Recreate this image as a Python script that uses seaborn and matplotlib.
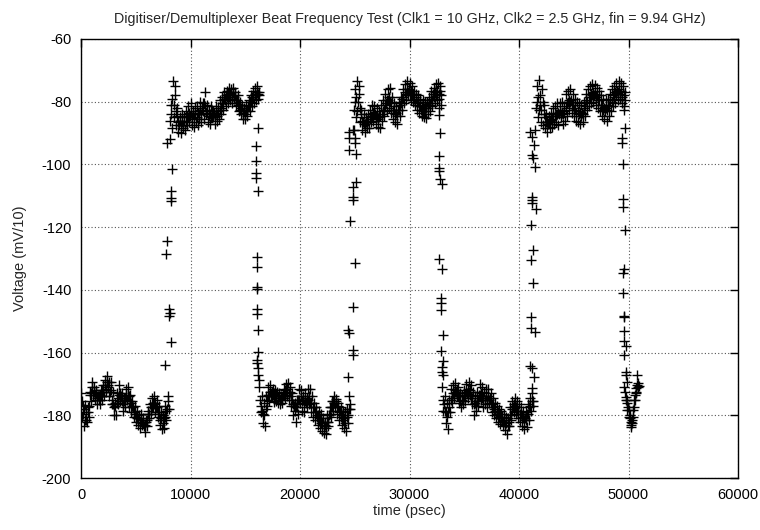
import numpy as np
import pandas as pd
import matplotlib
matplotlib.use("Agg")
import matplotlib.pyplot as plt
import seaborn as sns

# ---------------- data (time in psec, voltage in mV/10) ----------------
sample_step_ps = 100

low1_start = 0
low1_mv = [-173.0, -180.5, -177.0, -183.5, -176.8, -181.5, -179.0, -180.5, -173.5, -175.5,
           -169.5, -173.5, -171.0, -175.2, -172.0, -176.3, -173.8, -176.5, -172.0, -175.0,
           -170.5, -173.8, -168.8, -172.5, -167.5, -171.0, -173.8, -169.5, -176.5, -172.5,
           -180.0, -176.0, -180.0, -173.0, -176.5, -170.5, -175.5, -173.0, -178.5, -174.5,
           -177.5, -171.5, -175.0, -171.0, -177.5, -173.5, -179.0, -175.5, -180.5, -177.0,
           -182.0, -178.5, -183.0, -180.0, -184.0, -179.5, -183.0, -181.0, -185.3, -181.5,
           -183.5, -178.5, -181.0, -176.5, -179.5, -174.5, -177.5, -174.0, -178.8, -175.0,
           -180.5, -177.0, -183.0, -179.0, -184.5, -180.0, -184.0, -177.0, -181.5, -174.0,
           -178.0]
low1b_start = 50
low1b_mv = [-175.5, -179.5, -178.0, -181.5, -179.0, -182.0, -177.5, -177.0, -172.5, -173.0,
            -171.0, -172.5, -173.5, -173.0, -174.5, -174.0, -175.0, -173.5, -174.0, -172.0,
            -172.5, -170.5, -171.5, -169.5, -170.5, -169.5, -172.5, -172.0, -175.0, -176.5,
            -177.5, -177.0, -176.0, -174.5, -173.5, -173.0, -174.0, -175.5, -176.5, -175.5,
            -174.5, -173.5, -174.0, -174.0, -175.5, -176.0, -177.0, -177.5, -179.0, -179.5,
            -180.5, -181.0, -181.0, -182.0, -181.5, -182.5, -182.5, -183.5, -183.0, -182.0,
            -181.5, -179.5, -179.5, -177.5, -177.5, -176.0, -176.5, -176.0, -177.5, -177.5,
            -179.0, -179.5, -181.5, -181.0, -182.5, -181.0, -180.5, -178.5, -178.0, -175.5]

high1_start = 8100
high1_mv = [-92.0, -81.0, -88.5, -73.5, -85.0, -75.0, -87.5, -82.0, -89.5, -85.0,
            -90.0, -84.0, -88.5, -84.5, -89.0, -83.0, -87.5, -81.5, -86.5, -80.5,
            -87.5, -83.0, -88.0, -82.0, -86.5, -81.5, -87.5, -84.0, -80.0, -86.5,
            -80.5, -85.5, -77.0, -84.0, -81.0, -86.5, -82.5, -87.0, -81.5, -85.0,
            -83.0, -87.0, -81.5, -86.0, -82.0, -85.5, -79.5, -84.0, -78.5, -82.5,
            -77.0, -81.5, -76.5, -80.5, -75.5, -79.5, -76.0, -80.5, -75.5, -79.0,
            -77.0, -81.5, -78.0, -83.0, -80.0, -84.0, -81.0, -85.5, -82.0, -85.5,
            -81.0, -84.5, -79.5, -83.0, -78.0, -81.5, -76.5, -80.5, -75.5, -79.5,
            -75.0, -79.0, -77.0]
high1b_start = 8150
high1b_mv = [-86.0, -84.0, -79.0, -81.0, -78.0, -83.0, -84.5, -86.5, -87.5, -86.0,
             -87.5, -86.5, -87.5, -86.0, -86.5, -84.5, -85.0, -83.5, -84.5, -83.5,
             -85.0, -84.0, -85.5, -84.0, -85.0, -83.5, -85.5, -82.5, -84.0, -82.0,
             -83.0, -80.5, -81.5, -83.5, -83.0, -84.5, -84.0, -85.0, -83.0, -84.5,
             -83.5, -85.0, -83.5, -84.5, -83.0, -82.5, -82.0, -80.5, -80.5, -79.0,
             -79.5, -78.0, -78.5, -77.5, -78.5, -77.5, -78.5, -77.0, -78.5, -78.0,
             -79.5, -79.5, -81.0, -81.0, -82.5, -82.0, -83.5, -83.0, -84.0, -83.0,
             -83.0, -81.5, -81.5, -80.0, -80.0, -78.5, -78.5, -77.5, -78.0, -77.0,
             -77.5, -78.0]

low2_start = 16300
low2_mv = [-171.0, -179.0, -174.0, -182.5, -176.0, -183.5, -174.0, -177.0, -171.0, -175.5,
           -170.5, -174.0, -171.5, -175.8, -172.0, -175.5, -172.5, -176.0, -173.0, -176.5,
           -174.0, -176.0, -171.5, -174.5, -170.0, -174.0, -169.8, -175.0, -171.0, -177.0,
           -173.0, -180.0, -176.0, -182.0, -175.0, -179.5, -171.5, -176.0, -172.0, -178.5,
           -174.0, -179.0, -173.0, -177.5, -171.5, -176.5, -171.5, -179.0, -174.0, -180.5,
           -176.0, -181.5, -177.5, -183.0, -178.5, -184.0, -179.5, -185.0, -181.0, -185.8,
           -182.0, -186.0, -180.0, -183.5, -177.5, -180.5, -175.5, -178.5, -174.0, -177.5,
           -174.8, -179.5, -176.0, -181.5, -177.5, -183.0, -178.5, -184.0, -179.0, -185.0,
           -178.0, -182.5, -174.0, -178.0]
low2b_start = 16350
low2b_mv = [-175.0, -177.0, -178.5, -179.5, -180.0, -178.0, -175.0, -173.5, -173.5, -172.5,
            -173.5, -172.5, -173.5, -173.0, -174.0, -173.5, -174.5, -174.0, -175.0, -175.0,
            -174.5, -173.5, -173.5, -172.0, -172.5, -171.5, -173.0, -172.5, -174.0, -175.0,
            -176.5, -177.0, -178.5, -177.5, -177.5, -175.0, -175.0, -174.0, -175.5, -175.0,
            -176.5, -175.5, -176.0, -174.5, -175.0, -174.0, -176.0, -176.0, -177.5, -177.5,
            -179.0, -179.0, -180.5, -180.0, -181.5, -181.0, -182.5, -182.5, -183.5, -183.0,
            -184.0, -182.0, -182.0, -180.0, -179.5, -177.5, -177.5, -175.5, -176.0, -175.5,
            -177.5, -177.0, -179.0, -178.5, -180.5, -180.0, -181.5, -181.0, -182.5, -180.5,
            -180.0, -178.0, -176.5]

high2_start = 24900
high2_mv = [-89.0, -76.0, -85.0, -73.5, -80.0, -75.0, -86.5, -82.5, -89.0, -84.0,
            -89.5, -85.0, -88.5, -84.0, -88.5, -82.5, -86.5, -81.0, -86.0, -81.5,
            -87.0, -82.0, -88.0, -83.0, -88.5, -81.0, -86.0, -79.5, -84.5, -77.5,
            -83.0, -76.0, -82.0, -75.5, -83.5, -78.5, -85.5, -80.5, -86.5, -81.5,
            -87.0, -80.0, -84.5, -78.5, -82.5, -76.0, -80.5, -74.5, -79.5, -73.5,
            -78.0, -74.0, -79.5, -75.0, -80.0, -76.5, -81.0, -77.5, -82.5, -78.0,
            -83.5, -79.0, -84.5, -79.5, -85.0, -80.0, -85.3, -80.0, -84.0, -78.5,
            -83.0, -76.5, -81.5, -75.5, -80.5, -74.5, -79.5, -74.0, -79.0, -75.0,
            -81.0]
high2b_start = 24950
high2b_mv = [-82.5, -80.0, -78.5, -83.0, -77.5, -82.0, -84.0, -86.0, -86.5, -87.0,
             -87.0, -86.5, -86.5, -86.0, -85.5, -84.5, -84.5, -83.5, -84.0, -84.0,
             -84.5, -85.0, -85.5, -85.0, -84.5, -84.0, -83.0, -82.5, -81.0, -80.5,
             -79.5, -79.5, -78.5, -80.0, -80.5, -82.5, -82.5, -84.0, -83.5, -84.5,
             -82.5, -82.5, -81.0, -80.5, -79.0, -78.5, -77.0, -77.5, -76.0, -77.0,
             -76.0, -77.5, -76.5, -78.0, -77.5, -79.0, -78.5, -80.5, -80.0, -81.5,
             -81.0, -82.5, -81.5, -83.0, -82.0, -83.0, -82.0, -82.0, -80.5, -81.0,
             -79.0, -79.5, -77.5, -78.5, -77.0, -77.5, -76.5, -77.5, -76.5, -78.0]

low3_start = 33000
low3_mv = [-171.0, -178.5, -174.0, -182.5, -176.0, -184.5, -175.0, -179.0, -171.5, -176.0,
           -170.5, -174.5, -169.8, -174.0, -171.0, -176.0, -173.0, -177.5, -173.5, -176.5,
           -172.0, -175.5, -170.0, -174.5, -169.3, -173.5, -170.5, -176.5, -172.5, -180.0,
           -174.0, -178.5, -172.5, -177.0, -170.0, -175.0, -171.0, -177.5, -172.5, -176.5,
           -171.5, -177.5, -171.5, -176.0, -173.0, -179.0, -174.5, -180.0, -176.0, -181.0,
           -177.0, -182.0, -178.0, -182.8, -178.5, -183.5, -179.5, -184.8, -180.5, -186.0,
           -181.0, -183.5, -177.5, -181.5, -175.5, -179.0, -174.5, -179.5, -175.5, -181.0,
           -176.5, -182.0, -177.5, -183.5, -178.5, -184.5, -179.0, -183.8, -176.5, -181.5,
           -174.5, -178.5, -173.0, -177.0]
low3b_start = 33050
low3b_mv = [-175.0, -176.5, -178.5, -179.0, -180.5, -179.0, -177.5, -175.0, -174.5, -173.0,
            -173.0, -172.0, -172.5, -172.0, -173.5, -174.0, -175.5, -175.0, -175.5, -174.0,
            -173.5, -172.5, -173.0, -171.5, -172.5, -172.0, -174.5, -174.5, -176.5, -176.0,
            -177.0, -175.5, -175.5, -173.5, -173.5, -173.0, -174.5, -174.5, -175.0, -174.0,
            -175.0, -174.0, -175.0, -174.5, -176.0, -176.5, -177.5, -178.0, -178.5, -179.5,
            -179.0, -180.5, -179.5, -181.0, -180.5, -182.0, -181.5, -183.0, -182.5, -183.5,
            -182.0, -180.0, -180.0, -178.0, -177.5, -176.5, -177.0, -177.5, -178.5, -178.5,
            -179.5, -179.5, -180.5, -181.0, -181.5, -181.0, -181.5, -179.5, -179.5, -177.5,
            -177.0, -175.5, -175.5]

high3_start = 41500
high3_mv = [-89.0, -75.0, -85.0, -73.0, -81.0, -86.5, -76.0, -87.5, -81.0, -88.5,
            -84.0, -89.5, -84.5, -88.5, -83.5, -88.0, -82.0, -87.0, -81.5, -86.5,
            -80.5, -87.5, -80.5, -85.0, -80.0, -87.0, -81.5, -86.0, -77.5, -84.5,
            -76.5, -82.5, -76.0, -83.5, -77.5, -84.5, -79.0, -86.0, -80.0, -86.5,
            -80.5, -87.0, -81.0, -86.5, -80.0, -84.5, -77.5, -82.5, -76.0, -81.5,
            -75.0, -80.5, -74.5, -80.0, -74.8, -81.0, -75.5, -82.0, -76.5, -83.0,
            -78.0, -84.5, -79.0, -85.5, -79.5, -86.0, -79.0, -84.5, -77.5, -83.0,
            -76.0, -81.5, -75.0, -80.5, -74.0, -79.5, -73.5, -79.0, -74.0, -80.5,
            -75.0, -81.5, -77.0]
high3b_start = 41550
high3b_mv = [-82.0, -80.0, -78.5, -82.5, -78.0, -82.5, -80.0, -84.0, -85.0, -86.5,
             -86.5, -87.0, -86.5, -86.0, -85.5, -85.5, -84.5, -84.5, -84.0, -84.0,
             -83.5, -84.0, -83.0, -84.0, -83.5, -84.0, -83.0, -82.0, -80.5, -80.0,
             -79.5, -80.0, -79.5, -81.0, -81.0, -82.5, -82.0, -83.5, -83.0, -84.0,
             -83.5, -84.5, -83.5, -84.0, -82.0, -81.5, -79.5, -80.0, -78.5, -78.5,
             -77.5, -78.0, -77.0, -78.0, -77.5, -78.5, -78.0, -79.5, -79.5, -81.0,
             -81.0, -82.5, -82.0, -83.0, -82.0, -82.5, -81.0, -81.5, -79.5, -80.0,
             -78.0, -78.5, -77.0, -77.5, -76.5, -77.0, -76.0, -77.5, -76.5, -78.5,
             -78.0, -79.5]

# points caught during the level transitions
trans1_t = [7660, 7720, 7870, 7810, 8050, 8100, 8080, 8175, 8175, 8175, 8175, 8325]
trans1_mv = [-164.0, -128.6, -124.4, -93.3, -146.2, -147.5, -148.4, -156.6, -108.5, -110.6, -111.7, -101.3]

trans2_t = [16160, 16015, 16015, 16015, 16015, 16200, 16100, 16050, 16050, 16050,
            16050, 16050, 16150, 16150, 16100, 16050, 16150, 16150, 16250]
trans2_mv = [-88.5, -94.1, -98.9, -102.8, -104.4, -108.6, -129.4, -132.6, -139.0, -139.8,
             -146.2, -147.8, -152.8, -159.7, -162.4, -163.4, -165.0, -167.0, -168.8]

trans3_t = [24520, 24820, 24980, 24520, 24980, 24520, 25100, 25100, 24850, 24880,
            24880, 24600, 24980, 24800, 24370, 24520, 24800, 24880, 24370]
trans3_mv = [-89.5, -89.0, -91.5, -91.7, -93.3, -95.4, -96.7, -105.5, -107.3, -110.4,
             -111.3, -118.2, -131.4, -145.5, -152.8, -153.7, -159.2, -160.7, -167.9]

trans4_t = [32730, 32730, 32790, 32730, 32700, 32730, 32820, 32950, 32720, 32940,
            32880, 32880, 32880, 33030, 32880, 33030, 32950, 32970, 33030]
trans4_mv = [-82.1, -84.2, -89.9, -97.3, -101.2, -102.2, -104.6, -106.3, -130.3, -133.5,
             -142.5, -144.1, -146.5, -154.5, -159.4, -162.6, -164.7, -166.1, -167.2]

trans5_t = [40990, 41230, 41390, 41230, 41290, 41480, 41200, 41200, 41230, 41540,
            41080, 41310, 41080, 41310, 41080, 41080, 41480, 41020, 41170, 41390, 41230]
trans5_mv = [-89.6, -91.2, -93.8, -97.0, -98.0, -100.7, -110.4, -111.4, -112.2, -114.3,
             -119.4, -127.3, -130.5, -137.7, -148.8, -152.1, -153.5, -164.4, -164.9, -167.9, -171.4]

trans6_t = [49590, 49680, 49440, 49440, 49500, 49500, 49500, 49680, 49590, 49500,
            49500, 49590, 49590, 49590, 49590, 49800, 49620]
trans6_mv = [-82.6, -88.5, -91.7, -93.3, -99.8, -110.9, -113.6, -121.0, -133.5, -134.6,
             -141.0, -148.2, -148.8, -153.0, -156.2, -157.9, -160.8]

low4_t = [49740, 49740, 49900, 49590, 49680, 49740, 49830, 49900, 49990, 50050,
          50110, 50140, 50200, 50260, 50200, 50350, 50420, 50510, 50510, 50600,
          50660, 50720, 50810, 50900, 50970, 50810, 49740, 49900, 50050, 50290,
          50420, 50600, 50720, 50900]
low4_mv = [-166.1, -167.2, -169.3, -171.1, -172.5, -174.1, -175.1, -176.2, -177.3, -178.3,
           -179.9, -181.0, -182.1, -183.1, -183.7, -181.5, -180.5, -177.3, -175.1, -173.6,
           -172.5, -171.4, -170.4, -169.6, -170.7, -167.2, -175.1, -178.3, -180.5, -182.6,
           -178.3, -175.1, -173.0, -171.1]

title_text = "Digitiser/Demultiplexer Beat Frequency Test (Clk1 = 10 GHz, Clk2 = 2.5 GHz, fin = 9.94 GHz)"
x_label = "time (psec)"
y_label = "Voltage (mV/10)"
x_ticks = [0, 10000, 20000, 30000, 40000, 50000, 60000]
y_ticks = [-200, -180, -160, -140, -120, -100, -80, -60]

# ---------------- assemble ----------------
frames = []
for start, vals in [(low1_start, low1_mv), (low1b_start, low1b_mv),
                    (high1_start, high1_mv), (high1b_start, high1b_mv),
                    (low2_start, low2_mv), (low2b_start, low2b_mv),
                    (high2_start, high2_mv), (high2b_start, high2b_mv),
                    (low3_start, low3_mv), (low3b_start, low3b_mv),
                    (high3_start, high3_mv), (high3b_start, high3b_mv)]:
    t = start + sample_step_ps * np.arange(len(vals))
    frames.append(pd.DataFrame({"t": t, "mv": vals}))
for t, v in [(trans1_t, trans1_mv), (trans2_t, trans2_mv), (trans3_t, trans3_mv),
             (trans4_t, trans4_mv), (trans5_t, trans5_mv), (trans6_t, trans6_mv),
             (low4_t, low4_mv)]:
    frames.append(pd.DataFrame({"t": t, "mv": v}))
df = pd.concat(frames, ignore_index=True)

# ---------------- plot ----------------
sns.set_theme(style="white")
plt.rcParams["font.family"] = ["Liberation Sans", "DejaVu Sans"]

W, H = 760, 530
fig = plt.figure(figsize=(W / 100, H / 100), dpi=100)
L, R, T, B = 81, 738, 39, 478
ax = fig.add_axes([L / W, 1 - B / H, (R - L) / W, (B - T) / H])

sns.scatterplot(data=df, x="t", y="mv", marker="+", s=46, color="black",
                linewidth=1.0, ax=ax, legend=False, zorder=3)

ax.set_xlim(0, 60000)
ax.set_ylim(-200, -60)
ax.set_xticks(x_ticks)
ax.set_yticks(y_ticks)
ax.set_xticklabels([str(v) for v in x_ticks])
ax.set_yticklabels([str(v) for v in y_ticks])
ax.grid(True, linestyle=(0, (1, 2)), color="#555555", linewidth=0.8)
ax.tick_params(direction="in", length=6, width=1, top=True, right=True,
               labelsize=10.5, colors="black", pad=7)
for s in ax.spines.values():
    s.set_color("black")
    s.set_linewidth(1.0)
ax.set_xlabel("")
ax.set_ylabel("")

fig.text((L + R) / 2 / W, 1 - 19 / H, title_text, ha="center", va="center", fontsize=10.3)
fig.text((L + R) / 2 / W, 1 - 511 / H, x_label, ha="center", va="center", fontsize=10.5)
fig.text(20 / W, 1 - (T + B) / 2 / H, y_label, ha="center", va="center", rotation=90, fontsize=10.5)

fig.savefig("out.png", dpi=100)
